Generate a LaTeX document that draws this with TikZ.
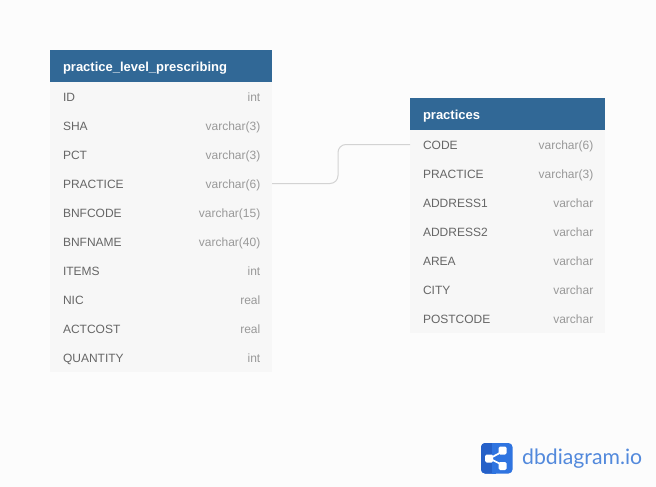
\documentclass[tikz,border=0pt]{standalone}
\usepackage{fontspec}
\setmainfont{Liberation Sans}
\newfontfamily\logofont{Lato}
\usetikzlibrary{positioning}
\definecolor{pagebg}{HTML}{FCFCFC}
\definecolor{headblue}{HTML}{316896}
\definecolor{rowgray}{HTML}{F7F7F7}
\definecolor{nametext}{HTML}{666666}
\definecolor{typetext}{HTML}{999999}
\definecolor{linkgray}{HTML}{D3D3D3}
\definecolor{logoblue}{HTML}{5289DC}
\definecolor{logolight}{HTML}{2F74E0}
\definecolor{logodark}{HTML}{2560C8}
\tikzset{
  headbox/.style={rectangle, fill=headblue, text=white, anchor=north west,
                  minimum height=32pt, inner ysep=0pt, inner xsep=13pt, outer sep=0pt,
                  text height=11pt, text depth=0pt, text width=#1-26pt,
                  font=\fontsize{13}{15}\selectfont\bfseries},
  rowbox/.style={rectangle, fill=rowgray, text=nametext,
                 minimum height=29pt, inner ysep=0pt, inner xsep=13pt, outer sep=0pt,
                 text height=10pt, text depth=0pt, text width=#1-26pt,
                 font=\fontsize{12}{14}\selectfont},
  typelabel/.style={anchor=east, xshift=-11.5pt, text=typetext, inner sep=0pt,
                    text height=10pt, text depth=0pt,
                    font=\fontsize{12}{14}\selectfont},
  link/.style={draw=linkgray, line width=1pt, rounded corners=8pt},
}
\begin{document}
\begin{tikzpicture}[x=1pt, y=-1pt, node distance=0pt]
  \useasboundingbox (0,0) rectangle (656,487);
  \fill[pagebg] (0,0) rectangle (656,487);

  % practice_level_prescribing
  \node[headbox=222pt] (t1) at (50,50) {practice\_level\_prescribing};
  \node[rowbox=222pt, below=of t1] (t1id) {ID};
  \node[rowbox=222pt, below=of t1id] (t1sha) {SHA};
  \node[rowbox=222pt, below=of t1sha] (t1pct) {PCT};
  \node[rowbox=222pt, below=of t1pct] (t1practice) {PRACTICE};
  \node[rowbox=222pt, below=of t1practice] (t1bnfcode) {BNFCODE};
  \node[rowbox=222pt, below=of t1bnfcode] (t1bnfname) {BNFNAME};
  \node[rowbox=222pt, below=of t1bnfname] (t1items) {ITEMS};
  \node[rowbox=222pt, below=of t1items] (t1nic) {NIC};
  \node[rowbox=222pt, below=of t1nic] (t1actcost) {ACTCOST};
  \node[rowbox=222pt, below=of t1actcost] (t1quantity) {QUANTITY};

  \node[typelabel] (t1idtype) at (t1id.east) {int};
  \node[typelabel] (t1shatype) at (t1sha.east) {varchar(3)};
  \node[typelabel] (t1pcttype) at (t1pct.east) {varchar(3)};
  \node[typelabel] (t1practicetype) at (t1practice.east) {varchar(6)};
  \node[typelabel] (t1bnfcodetype) at (t1bnfcode.east) {varchar(15)};
  \node[typelabel] (t1bnfnametype) at (t1bnfname.east) {varchar(40)};
  \node[typelabel] (t1itemstype) at (t1items.east) {int};
  \node[typelabel] (t1nictype) at (t1nic.east) {real};
  \node[typelabel] (t1actcosttype) at (t1actcost.east) {real};
  \node[typelabel] (t1quantitytype) at (t1quantity.east) {int};

  % practices
  \node[headbox=195pt] (t2) at (410,98) {practices};
  \node[rowbox=195pt, below=of t2] (t2code) {CODE};
  \node[rowbox=195pt, below=of t2code] (t2practice) {PRACTICE};
  \node[rowbox=195pt, below=of t2practice] (t2addressa) {ADDRESS1};
  \node[rowbox=195pt, below=of t2addressa] (t2addressb) {ADDRESS2};
  \node[rowbox=195pt, below=of t2addressb] (t2area) {AREA};
  \node[rowbox=195pt, below=of t2area] (t2city) {CITY};
  \node[rowbox=195pt, below=of t2city] (t2postcode) {POSTCODE};

  \node[typelabel] (t2codetype) at (t2code.east) {varchar(6)};
  \node[typelabel] (t2practicetype) at (t2practice.east) {varchar(3)};
  \node[typelabel] (t2addressatype) at (t2addressa.east) {varchar};
  \node[typelabel] (t2addressbtype) at (t2addressb.east) {varchar};
  \node[typelabel] (t2areatype) at (t2area.east) {varchar};
  \node[typelabel] (t2citytype) at (t2city.east) {varchar};
  \node[typelabel] (t2postcodetype) at (t2postcode.east) {varchar};

  \coordinate (bend) at (338,0);
  \draw[link] (t1practice.east) -- (t1practice.east -| bend) -- (t2code.west -| bend) -- (t2code.west);

  % logo
  \fill[logolight, rounded corners=4pt] (481,443) rectangle (512.5,473.5);
  \fill[logodark, rounded corners=4pt] (481,443) -- (496,443) -- (496,473.5) -- (481,473.5) -- cycle;
  \fill[logolight] (492,443) rectangle (496,473.5);
  \draw[white, line width=1.7pt] (503.5,451) -- (489.5,458.5) -- (503.5,465.5);
  \fill[white, rounded corners=1.5pt] (498.5,446.5) rectangle (506.5,454.5);
  \fill[white, rounded corners=1.5pt] (498.5,462) rectangle (506.5,470);
  \fill[white, rounded corners=1.5pt] (485,454.5) rectangle (493,462.5);
  \node[anchor=west, inner sep=0pt, text=logoblue, font=\logofont\fontsize{21.2}{24}\selectfont] (logotext) at (522,458.5) {dbdiagram.io};
\end{tikzpicture}
\end{document}
